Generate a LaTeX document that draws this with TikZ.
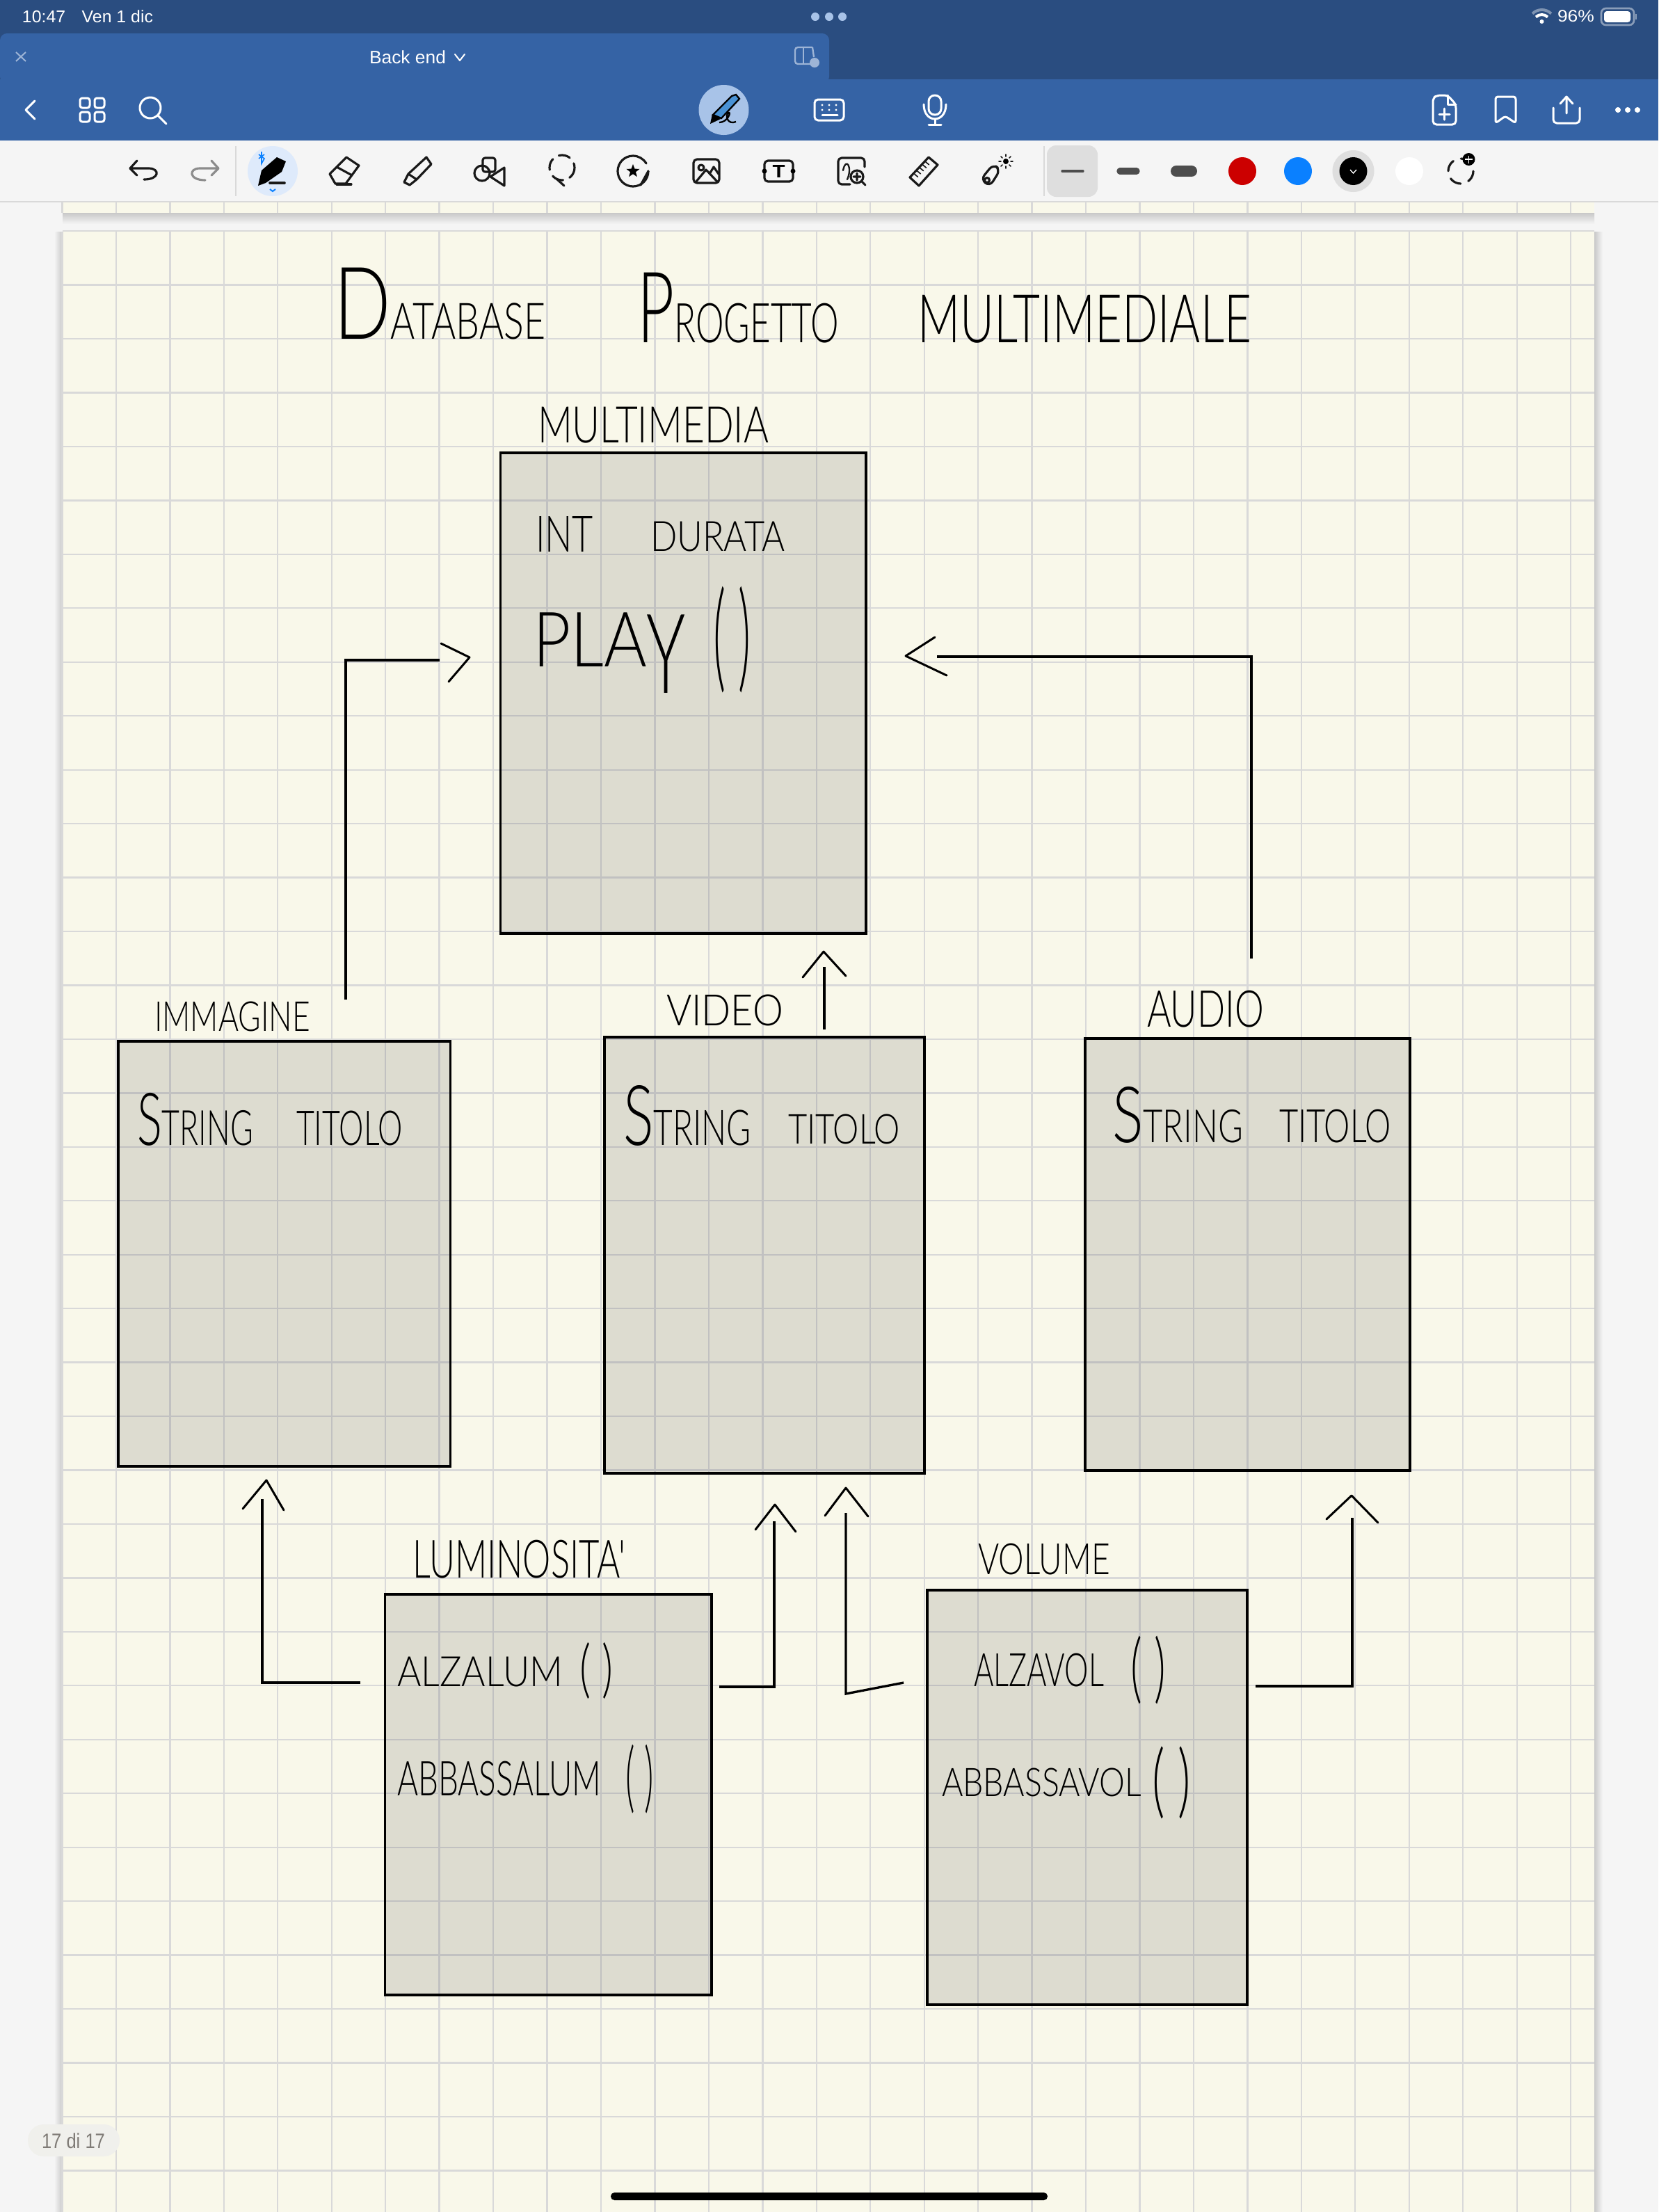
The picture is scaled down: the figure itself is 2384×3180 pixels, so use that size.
\documentclass[tikz,border=0pt]{standalone}
\usepackage{fontspec}
\usepackage{graphicx}
\usetikzlibrary{fit,shapes.geometric}
\setmainfont{Liberation Sans}
\newfontfamily\handfont{Lato Light}
\newfontfamily\uifont{Liberation Sans}
\newdimen\pxu \pxu=.3pt
\definecolor{darkbar}{HTML}{2A4D80}
\definecolor{bluebar}{HTML}{3563A5}
\definecolor{toolbg}{HTML}{F5F5F5}
\definecolor{pagebg}{HTML}{F9F8EA}
\definecolor{gridcol}{HTML}{D9D9D9}
\definecolor{seltool}{HTML}{DEDEDE}
\definecolor{strokegray}{HTML}{4D4D4D}
\definecolor{penhalo}{HTML}{A8C3E8}
\definecolor{activehalo}{HTML}{DEEAFB}
\definecolor{iosblue}{HTML}{0A80FF}
\definecolor{pillbg}{HTML}{F0F0EC}
\definecolor{pilltext}{HTML}{7F7B76}
\definecolor{shadowcol}{HTML}{C8C8C8}
\definecolor{dimwhite}{HTML}{9DB4D6}
\newcommand{\hand}[6]{\node[handtext] (#1) at (#2,#3) {\resizebox*{#4\pxu}{#5\pxu}{#6}};}
\newcommand{\capl}[2]{{\fontsize{#1}{#1}\selectfont #2}}
\tikzset{
  x=.3pt,y=-.3pt,
  handtext/.style={anchor=north west,inner sep=0pt,outer sep=0pt,font=\handfont,text=black},
  uitext/.style={anchor=north west,inner sep=0pt,outer sep=0pt,font=\uifont},
  classbox/.style={draw=black,draw opacity=1,fill=black,fill opacity=.11,line width=1pt,inner sep=0pt,outer sep=0pt,rectangle},
  conn/.style={draw=black,line width=1pt,line join=miter},
  headline/.style={draw=black,line width=.9pt,line join=round,line cap=round},
  gridline/.style={draw=gridcol,line width=.7pt},
  icon/.style={draw=white,line width=.9pt,line join=round,line cap=round},
  tool/.style={draw=black!90,line width=.95pt,line join=round,line cap=round},
}
\begin{document}
\begin{tikzpicture}
\useasboundingbox (0,0) rectangle (2384,3180);
\fill[toolbg] (0,0) rectangle (2384,3180);

% ---------- pages
\fill[pagebg] (90,290) rectangle (2292,306);
\shade[top color=shadowcol,bottom color=toolbg] (90,306) rectangle (2292,322);
\fill[pagebg] (90,333) rectangle (2292,3180);
\shade[left color=toolbg,right color=shadowcol] (78,333) rectangle (90,3180);
\shade[left color=shadowcol,right color=toolbg] (2292,333) rectangle (2304,3180);
\foreach \k in {0,...,28}{
  \draw[gridline] ({89.5+77.45*\k},290) -- ({89.5+77.45*\k},306);
  \draw[gridline] ({89.5+77.45*\k},333) -- ({89.5+77.45*\k},3180);
}
\foreach \k in {-1,...,36}{
  \draw[gridline] (90,{409.6+77.45*\k}) -- (2292,{409.6+77.45*\k});
}
\draw[draw=gridcol,line width=.5pt] (0,290) -- (2384,290);

% ---------- title
\hand{ttlA}{480}{385}{304}{103}{\capl{20}{D}ATABASE}
\hand{ttlB}{916}{392}{290}{101}{\capl{18}{P}ROGETTO}
\hand{ttlC}{1319}{424}{480}{69}{MULTIMEDIALE}

% ---------- classes
\node[classbox,fit={(719.5,651)(1245,1342)}] (multimedia) {};
\node[classbox,fit={(170,1497)(647.5,2108)}] (immagine) {};
\node[classbox,fit={(869,1491)(1329,2118)}] (video) {};
\node[classbox,fit={(1560,1493)(2027,2114)}] (audio) {};
\node[classbox,fit={(553.6,2292)(1023,2868)}] (luminosita) {};
\node[classbox,fit={(1333,2286)(1793,2882)}] (volume) {};

% ---------- class labels and contents
\hand{lblMulti}{773}{585}{332}{52}{MULTIMEDIA}
\hand{intA}{770}{742}{83}{51}{INT}
\hand{intB}{935}{750}{194}{43}{DURATA}
\hand{playA}{766}{881}{220}{115}{PLA\raisebox{-3.4pt}{\scalebox{1}[1.45]{Y}}}
\hand{playB}{1025}{843}{55}{153}{( )}

\hand{lblImm}{222}{1440}{224}{43}{IMMAGINE}
\hand{immA}{197}{1571}{167}{76}{\capl{15}{S}TRING}
\hand{immB}{426}{1597}{153}{50}{TITOLO}

\hand{lblVid}{958}{1430}{168}{45}{VIDEO}
\hand{vidA}{896}{1560}{184}{87}{\capl{17}{S}TRING}
\hand{vidB}{1133}{1602}{161}{43}{TITOLO}

\hand{lblAud}{1649}{1424}{168}{53}{AUDIO}
\hand{audA}{1599}{1562}{188}{81}{\capl{17}{S}TRING}
\hand{audB}{1839}{1595}{161}{48}{TITOLO}

\hand{lblLum}{593}{2214}{306}{55}{LUMINOSITA'}
\hand{lumA}{571}{2382}{238}{43}{ALZALUM}
\hand{lumAp}{833}{2361}{49}{81}{( )}
\hand{lumB}{571}{2532}{293}{50}{ABBASSALUM}
\hand{lumBp}{899}{2508}{41}{99}{( )}

\hand{lblVol}{1406}{2219}{190}{45}{VOLUME}
\hand{volA}{1400}{2377}{187}{48}{ALZAVOL}
\hand{volAp}{1625}{2352}{51}{98}{( )}
\hand{volB}{1354}{2542}{287}{41}{ABBASSAVOL}
\hand{volBp}{1656}{2511}{56}{104}{( )}

% ---------- connectors (free ends stop short of the boxes, as drawn)
\coordinate (c1s) at (497,1437); \coordinate (c1e) at (632,949);
\draw[conn] (c1s) |- (c1e);
\draw[headline] (634,925) -- (675,945) -- (645,980);

\coordinate (c2s) at (1799,1378); \coordinate (c2e) at (1347,944);
\draw[conn] (c2s) |- (c2e);
\draw[headline] (1344,916) -- (1302,943) -- (1361,971);

\coordinate (c3s) at (1185,1480); \coordinate (c3e) at (1185,1390);
\draw[conn] (c3s) -- (c3e);
\draw[headline] (1154,1405) -- (1184,1368) -- (1216,1403);

\coordinate (c4s) at (518,2419); \coordinate (c4e) at (377,2155);
\draw[conn] (c4s) -| (c4e);
\draw[headline] (349,2169) -- (383,2128) -- (408,2171);

\coordinate (c5s) at (1034,2425); \coordinate (c5e) at (1113,2187);
\draw[conn] (c5s) -| (c5e);
\draw[headline] (1086,2199) -- (1114,2163) -- (1144,2202);

\coordinate (c6s) at (1299,2419); \coordinate (c6m) at (1216,2435); \coordinate (c6e) at (1216,2175);
\draw[conn] (c6s) -- (c6m) -- (c6e);
\draw[headline] (1186,2179) -- (1216,2139) -- (1248,2180);

\coordinate (c7s) at (1805,2424); \coordinate (c7e) at (1944,2182);
\draw[conn] (c7s) -| (c7e);
\draw[headline] (1907,2184) -- (1943,2150) -- (1981,2189);

% ---------- status + header bars
\fill[darkbar] (0,0) rectangle (2384,114);
\fill[bluebar,rounded corners=3pt] (0,48) -- (1192,48) -- (1192,120) -- (0,120) -- cycle;
\fill[bluebar] (0,114) rectangle (2384,202);

\node[uitext,text=white] (clock) at (32,15) {\resizebox*{188\pxu}{18\pxu}{10:47\hspace{.95em}Ven 1 dic}};
\node[uitext,text=white] (batt) at (2239,15) {\resizebox*{53\pxu}{17\pxu}{96\%}};
\node[uitext,text=white] (docname) at (531,73) {\resizebox*{110\pxu}{19\pxu}{Back end}};
\draw[icon,line width=.6pt] (654,78) -- (661,87) -- (668,78);

\foreach \x in {1172,1192,1211} \fill[penhalo] (\x,24) circle[radius=6];

% wifi
\draw[draw=white,opacity=.4,line width=1.2pt] (2203.1,19.6) arc[start angle=225,end angle=315,radius=19];
\draw[draw=white,line width=1.2pt] (2208,24.5) arc[start angle=225,end angle=315,radius=12];
\fill[white] (2216.5,31) circle[radius=3];
% battery
\draw[draw=white,opacity=.45,line width=.8pt,rounded corners=2pt] (2302,12) rectangle (2349,36);
\fill[white,rounded corners=1.2pt] (2306,16) rectangle (2344,32);
\fill[white,opacity=.45] (2351,20) rectangle (2353,28);

% header icons
\draw[draw=dimwhite,line width=.6pt] (23,75) -- (37,88) (37,75) -- (23,88);
\draw[draw=dimwhite,line width=.7pt,rounded corners=1.2pt] (1168,68) -- (1143,68) -- (1143,92) -- (1165,92);
\draw[draw=dimwhite,line width=.7pt] (1155,68) -- (1155,92);
\draw[draw=dimwhite,line width=.7pt] (1168,68) -- (1170,82);
\fill[dimwhite] (1171,90) circle[radius=7];

\draw[icon] (50,145) -- (37,158) -- (50,171);
\foreach \a/\b in {115/141,136/141,115/161,136/161}
  \draw[icon,rounded corners=1pt] (\a,\b) rectangle ({\a+14},{\b+14});
\draw[icon] (216,155) circle[radius=15];
\draw[icon] (227,166) -- (239,178);

\fill[penhalo] (1040.5,158) circle[radius=36];
\fill[black] (1021,178) -- (1024,164) -- (1036,171) -- cycle;
\fill[cyan!60!blue!75,draw=black,line width=.7pt] (1025,165) -- (1052,138) -- (1058,136) -- (1063,142) -- (1037,170) -- cycle;
\draw[draw=black,line width=.7pt] (1034,176) .. controls (1046,176) and (1052,160) .. (1047,162) .. controls (1042,166) and (1046,180) .. (1058,175);

% keyboard
\draw[icon,rounded corners=1.5pt] (1171,143) rectangle (1213,173);
\foreach \x in {1182,1192,1202}{\fill[white] (\x,151) circle[radius=1.6]; \fill[white] (\x,158) circle[radius=1.6];}
\draw[icon] (1182,165) -- (1204,165);
% mic
\draw[icon,rounded corners=2.6pt] (1335,137) rectangle (1353,165);
\draw[icon] (1328,150) .. controls (1328,178) and (1360,178) .. (1360,150);
\draw[icon] (1344,171) -- (1344,179) (1335,179) -- (1353,179);
% new page
\draw[icon,rounded corners=1.5pt] (2081,137) -- (2066,137) -- (2060,141) -- (2060,179) -- (2093,179) -- (2093,150) -- cycle;
\draw[icon] (2081,137) -- (2081,150) -- (2093,150);
\draw[icon] (2069,164) -- (2084,164) (2076,156) -- (2076,172);
% bookmark
\draw[icon,rounded corners=1pt] (2150,177) -- (2150,139) -- (2179,139) -- (2179,177) -- (2164,167) -- cycle;
% share
\draw[icon,rounded corners=1.5pt] (2233,155) -- (2233,177) -- (2271,177) -- (2271,155);
\draw[icon] (2252,163) -- (2252,139) (2243,149) -- (2252,139) -- (2261,149);
\foreach \x in {2326,2340,2354} \fill[white] (\x,158) circle[radius=4];

% ---------- toolbar
\draw[draw=gridcol,line width=.4pt] (339,210) -- (339,282) (1501,210) -- (1501,282);
% undo / redo
\draw[tool] (197,231) -- (187,242) -- (197,252) (187,242) -- (214,242) .. controls (230,242) and (230,258) .. (207,258);
\draw[tool,draw=black!45] (304,231) -- (314,242) -- (304,252) (314,242) -- (287,242) .. controls (271,242) and (271,259) .. (295,259);
% active pen
\fill[activehalo] (392,246) circle[radius=36];
\fill[black] (371,267) -- (376,245) -- (398,226) -- (411,232) -- (405,247) -- (382,263) -- cycle;
\draw[draw=iosblue,line width=.5pt] (372,222) -- (380,228) -- (376,235) -- (376,218) (380,222) -- (372,228);
\draw[tool,line width=1.1pt] (388,263) -- (409,263);
\draw[draw=iosblue,line width=.6pt] (388,272) -- (392,275) -- (396,272);
% eraser
\draw[tool] (498,226) -- (516,238) -- (497,264) -- (482,264) -- (474,250) -- cycle (484,240) -- (506,252);
\draw[tool] (484,265) -- (505,265);
% highlighter
\draw[tool] (613,226) -- (620,236) -- (599,258) -- (587,250) -- cycle (587,250) -- (581,262) -- (589,266) -- (599,258);
% shapes
\draw[tool,rounded corners=1pt] (694,227) rectangle (712,247);
\draw[tool] (693,249) circle[radius=11];
\draw[tool] (725,241) -- (725,267) -- (705,254) -- cycle;
% lasso
\draw[tool,dash pattern=on 5pt off 3pt] (808,241) circle[radius=18];
\draw[tool,dash pattern=on 5pt off 3pt] (800,257) -- (811,267);
% sticker
\draw[tool] (932,246) arc[start angle=0,end angle=330,radius=22];
\node[draw=none,fill=black,star,star points=5,star point ratio=2.4,minimum size=6pt,inner sep=0pt] (stickerstar) at (910,246) {};
\draw[tool] (932,246) -- (921,266);
% image
\draw[tool,rounded corners=1.5pt] (997,229) rectangle (1034,263);
\draw[tool] (1008,241) circle[radius=4];
\draw[tool] (1000,262) -- (1015,244) -- (1032,262) (1020,250) -- (1026,240) -- (1033,250);
% text
\draw[tool,rounded corners=1.5pt] (1099,231) rectangle (1140,261);
\node[inner sep=0pt,font=\bfseries\uifont,text=black] (textT) at (1119.5,246) {\resizebox*{18\pxu}{18\pxu}{T}};
\fill[black] (1099,246) circle[radius=3.5] (1140,246) circle[radius=3.5];
% scan
\draw[tool,rounded corners=1.5pt] (1243,240) -- (1243,227) -- (1205,227) -- (1205,265) -- (1222,265);
\draw[tool] (1232,254) circle[radius=9];
\draw[tool] (1239,261) -- (1244,266) (1227,254) -- (1237,254) (1232,249) -- (1232,259);
\draw[tool,line width=.7pt] (1212,245) .. controls (1216,225) and (1226,240) .. (1218,258);
% ruler
\draw[tool] (1335,226) -- (1348,237) -- (1321,267) -- (1308,255) -- cycle;
\foreach \t in {.2,.35,.5,.65,.8}
  \draw[tool,line width=.5pt] ({1335+\t*(1308-1335)},{226+\t*(255-226)}) -- ++(6,5);
% magic
\draw[tool,rounded corners=2.5pt] (1428,236) -- (1438,244) -- (1423,268) -- (1410,258) -- cycle;
\draw[tool] (1419,259) circle[radius=3.5];
\fill[black] (1446,232) circle[radius=4];
\foreach \a in {0,45,...,315}
  \draw[tool,line width=.5pt] ({1446+7*cos(\a)},{232+7*sin(\a)}) -- ({1446+10*cos(\a)},{232+10*sin(\a)});
% stroke sizes
\fill[seltool,rounded corners=4pt] (1505,209) rectangle (1578,283);
\draw[draw=strokegray,line width=1pt,line cap=round] (1527,246) -- (1557,246);
\draw[draw=strokegray,line width=2.8pt,line cap=round] (1610,246) -- (1634,246);
\draw[draw=strokegray,line width=4.8pt,line cap=round] (1691,246) -- (1713,246);
% colours
\fill[red!80!black] (1786,246) circle[radius=20];
\fill[iosblue] (1866,246) circle[radius=20];
\fill[seltool] (1945.5,246) circle[radius=30];
\fill[black] (1945.5,246) circle[radius=20];
\draw[draw=white,line width=.4pt] (1941,244) -- (1945.5,249) -- (1950,244);
\fill[white] (2026,246) circle[radius=20];
\draw[tool,dash pattern=on 5pt off 3.5pt] (2100,246) circle[radius=18];
\fill[black] (2111.5,229) circle[radius=9];
\draw[draw=white,line width=.5pt] (2106,229) -- (2117,229) (2111.5,223.5) -- (2111.5,234.5);

% ---------- page pill + home indicator
\fill[pillbg,rounded corners=6.8pt] (40,3054) rectangle (172,3100);
\node[uitext,text=pilltext] (pagecount) at (60,3067) {\resizebox*{91\pxu}{22\pxu}{17 di 17}};
\fill[black,rounded corners=1.6pt] (878,3152) rectangle (1506,3163);
\end{tikzpicture}
\end{document}
